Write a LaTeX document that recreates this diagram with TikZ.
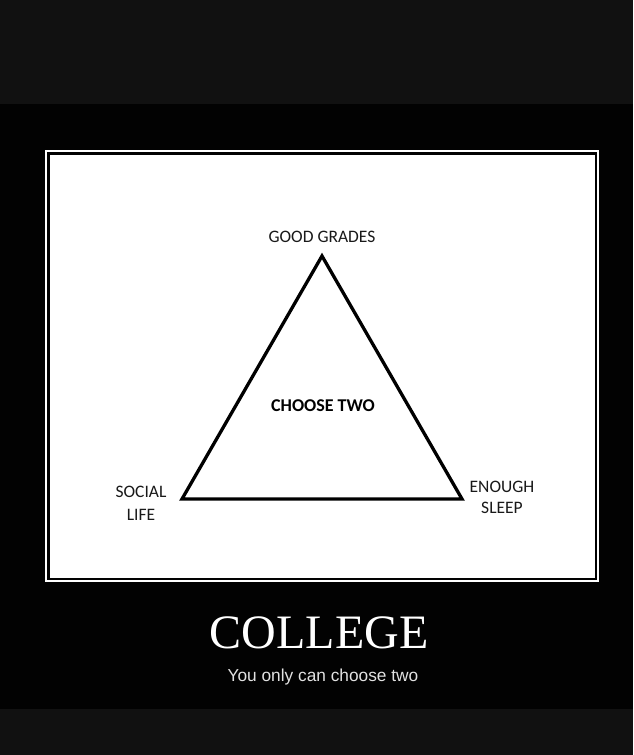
\documentclass[tikz,border=0pt]{standalone}
\usepackage{fontspec}
\newfontfamily\labelfont{Carlito}
\newfontfamily\titlefont{Liberation Serif}
\newfontfamily\captionfont{Liberation Sans}
\definecolor{band}{HTML}{111111}
\definecolor{poster}{HTML}{020202}
\definecolor{subtext}{HTML}{E2E2E2}
\tikzset{
  corner/.style={font=\labelfont\fontsize{17.5}{22}\selectfont, align=center, text=black!90},
}

\begin{document}
\begin{tikzpicture}[x=1pt, y=1pt]
  \useasboundingbox (0,0) rectangle (633,755);
  % Dark bands and black poster.
  \fill[band] (0,0) rectangle (633,755);
  \fill[poster] (0,46) rectangle (633,651);
  % Framed white panel.
  \draw[white, line width=2pt] (46,174) rectangle (598,604);
  \fill[white] (50,177) rectangle (595,600);
  % Triangle of choices.
  \coordinate (grades) at (322,499);
  \coordinate (social) at (182,256);
  \coordinate (sleep)  at (462,256);
  \draw[line width=3.3pt, line join=miter] (grades) -- (sleep) -- (social) -- cycle;
  \node[corner] (gradeslabel) at (322,518) {GOOD GRADES};
  \node[corner, font=\labelfont\fontsize{17.5}{23}\selectfont] (sociallabel) at (141,252) {SOCIAL\\LIFE};
  \node[corner, font=\labelfont\fontsize{17.5}{21}\selectfont] (sleeplabel) at (502,258) {ENOUGH\\SLEEP};
  \node[font=\labelfont\bfseries\fontsize{18}{20}\selectfont] (choose) at (323,349) {CHOOSE TWO};
  % Poster caption.
  \node[white, font=\titlefont\fontsize{48}{50}\selectfont] (title) at (319,122) {COLLEGE};
  \node[subtext, anchor=base, font=\captionfont\fontsize{17.3}{18}\selectfont] (caption) at (323,73) {You only can choose two};
\end{tikzpicture}
\end{document}
